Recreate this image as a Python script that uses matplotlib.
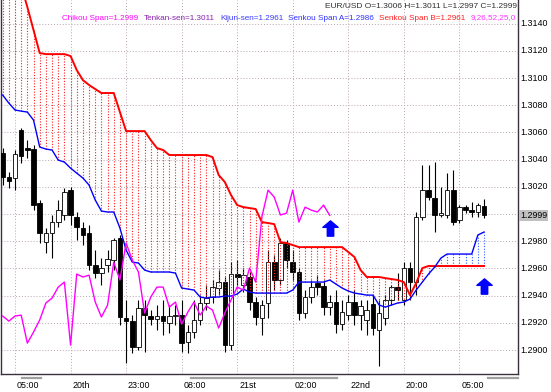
import numpy as np
import matplotlib.pyplot as plt
from matplotlib.path import Path
from matplotlib.transforms import blended_transform_factory

plt.rcParams['font.family'] = ['Liberation Sans', 'DejaVu Sans']

# EUR/USD candles, one per bar (bar 0 = leftmost)
opens = [1.30449, 1.30272, 1.30265, 1.30618, 1.30485, 1.30478, 1.30081, 1.29794, 1.29860, 1.29941,
         1.29993, 1.30176, 1.29978, 1.29897, 1.29860, 1.29625, 1.29566, 1.29625, 1.29662, 1.29824,
         1.29235, 1.29213, 1.29022, 1.29309, 1.29250, 1.29228, 1.29250, 1.29199, 1.29250, 1.29257,
         1.29059, 1.29132, 1.29221, 1.29346, 1.29390, 1.29456, 1.29500, 1.29037, 1.29559, 1.29478,
         1.29537, 1.29353, 1.29235, 1.29346, 1.29647, 1.29515, 1.29787, 1.29647, 1.29574, 1.29272,
         1.29390, 1.29493, 1.29471, 1.29316, 1.29353, 1.29191, 1.29257, 1.29353, 1.29257, 1.29221,
         1.29338, 1.29147, 1.29235, 1.29368, 1.29463, 1.29368, 1.29603, 1.29500, 1.29978, 1.30176,
         1.30118, 1.29993, 1.29993, 1.30176, 1.29956, 1.30051, 1.30029, 1.30015, 1.30060]
highs = [1.30485, 1.30309, 1.30471, 1.30632, 1.30544, 1.30507, 1.30103, 1.29897, 1.29993, 1.30103,
         1.30191, 1.30199, 1.30015, 1.29941, 1.29919, 1.29735, 1.29676, 1.29735, 1.29824, 1.29846,
         1.29368, 1.29257, 1.29368, 1.29368, 1.29294, 1.29331, 1.29368, 1.29331, 1.29331, 1.29368,
         1.29184, 1.29368, 1.29404, 1.29478, 1.29515, 1.29588, 1.29537, 1.29647, 1.29662, 1.29603,
         1.29574, 1.29390, 1.29368, 1.29735, 1.29699, 1.29824, 1.29809, 1.29735, 1.29603, 1.29441,
         1.29515, 1.29551, 1.29515, 1.29404, 1.29441, 1.29368, 1.29404, 1.29441, 1.29368, 1.29368,
         1.29404, 1.29368, 1.29404, 1.29478, 1.29566, 1.29647, 1.29647, 1.30015, 1.30360, 1.30360,
         1.30382, 1.30199, 1.30301, 1.30324, 1.30066, 1.30066, 1.30088, 1.30081, 1.30110]
lows = [1.30213, 1.30191, 1.30176, 1.30375, 1.30412, 1.30029, 1.29787, 1.29713, 1.29676, 1.29904,
        1.29956, 1.29919, 1.29809, 1.29772, 1.29588, 1.29529, 1.29478, 1.29574, 1.29588, 1.29184,
        1.28904, 1.28978, 1.29000, 1.28985, 1.29184, 1.29147, 1.29110, 1.29125, 1.29184, 1.28985,
        1.28978, 1.29088, 1.29184, 1.29294, 1.29346, 1.29404, 1.28985, 1.29000, 1.29478, 1.29426,
        1.29294, 1.29184, 1.29110, 1.29235, 1.29441, 1.29478, 1.29603, 1.29515, 1.29221, 1.29235,
        1.29346, 1.29404, 1.29257, 1.29257, 1.29125, 1.29147, 1.29221, 1.29184, 1.29147, 1.29110,
        1.29110, 1.28882, 1.29184, 1.29331, 1.29368, 1.29331, 1.29368, 1.29404, 1.29956, 1.30103,
        1.29868, 1.29978, 1.29971, 1.29919, 1.29934, 1.30007, 1.29978, 1.29978, 1.29970]
closes = [1.30272, 1.30243, 1.30441, 1.30426, 1.30471, 1.30066, 1.29860, 1.29860, 1.29941, 1.30029,
          1.30162, 1.29993, 1.29904, 1.29846, 1.29625, 1.29566, 1.29603, 1.29669, 1.29809, 1.29243,
          1.29213, 1.29022, 1.29309, 1.29257, 1.29228, 1.29250, 1.29213, 1.29250, 1.29257, 1.29051,
          1.29132, 1.29221, 1.29346, 1.29382, 1.29463, 1.29500, 1.29037, 1.29559, 1.29537, 1.29551,
          1.29353, 1.29243, 1.29331, 1.29647, 1.29515, 1.29787, 1.29662, 1.29574, 1.29272, 1.29390,
          1.29463, 1.29463, 1.29316, 1.29353, 1.29191, 1.29279, 1.29353, 1.29257, 1.29324, 1.29294,
          1.29162, 1.29272, 1.29368, 1.29463, 1.29441, 1.29603, 1.29500, 1.29978, 1.30176, 1.30125,
          1.29993, 1.30007, 1.30176, 1.29941, 1.30051, 1.30029, 1.30015, 1.30066, 1.29990]

# Ichimoku cloud edges
senkou_a = [1.30875, 1.30816, 1.30765, 1.30757, 1.30750, 1.30691, 1.30493, 1.30478, 1.30471, 1.30397,
            1.30382, 1.30338, 1.30301, 1.30265, 1.30213, 1.30103, 1.30022, 1.30015, 1.30015, 1.29897,
            1.29735, 1.29647, 1.29640, 1.29588, 1.29574, 1.29574, 1.29574, 1.29574, 1.29566, 1.29456,
            1.29449, 1.29441, 1.29390, 1.29382, 1.29390, 1.29390, 1.29397, 1.29397, 1.29412, 1.29449,
            1.29426, 1.29419, 1.29419, 1.29419, 1.29419, 1.29419, 1.29419, 1.29441, 1.29500, 1.29500,
            1.29500, 1.29500, 1.29500, 1.29515, 1.29485, 1.29456, 1.29434, 1.29419, 1.29412, 1.29404,
            1.29404, 1.29331, 1.29316, 1.29331, 1.29346, 1.29353, 1.29375, 1.29441, 1.29500, 1.29559,
            1.29610, 1.29676, 1.29706, 1.29706, 1.29706, 1.29706, 1.29706, 1.29846, 1.29868]
senkou_b = [1.31800, 1.31780, 1.31750, 1.31680, 1.31522, 1.31353, 1.31184, 1.31176, 1.31176, 1.31176,
            1.31176, 1.31162, 1.31059, 1.30985, 1.30949, 1.30919, 1.30890, 1.30890, 1.30890, 1.30750,
            1.30610, 1.30610, 1.30610, 1.30610, 1.30544, 1.30485, 1.30471, 1.30434, 1.30434, 1.30434,
            1.30434, 1.30434, 1.30434, 1.30434, 1.30419, 1.30287, 1.30235, 1.30140, 1.30066, 1.30051,
            1.30044, 1.30037, 1.29941, 1.29934, 1.29926, 1.29794, 1.29787, 1.29772, 1.29757, 1.29757,
            1.29757, 1.29757, 1.29757, 1.29757, 1.29757, 1.29757, 1.29721, 1.29684, 1.29588, 1.29537,
            1.29537, 1.29537, 1.29529, 1.29522, 1.29515, 1.29500, 1.29404, 1.29493, 1.29603, 1.29618,
            1.29618, 1.29618, 1.29618, 1.29618, 1.29618, 1.29618, 1.29618, 1.29618, 1.29618]
chikou_shift = 25

time_labels = ["05:00", "20th", "23:00", "08:00", "21st", "02:00", "22nd", "20:00", "05:00"]
time_bars = [2, 11, 20, 29, 38, 47, 56, 65, 74]
price_ticks = [1.2900, 1.2920, 1.2940, 1.2960, 1.2980, 1.3000, 1.3020, 1.3040,
               1.3060, 1.3080, 1.3100, 1.3120, 1.3140]
price_labels = ["1.2900", "1.2920", "1.2940", "1.2960", "1.2980", "", "1.3020", "1.3040",
                "1.3060", "1.3080", "1.3100", "1.3120", "1.3140"]
signal_bars = [53, 78]
signal_prices = [1.29897, 1.29474]

header = "EUR/USD O=1.3006 H=1.3011 L=1.2997 C=1.2999"
legend_parts = ["Chikou Span=1.2999", "Tenkan-sen=1.3011", "Kijun-sen=1.2961",
                "Senkou Span A=1.2986", "Senkou Span B=1.2961", "9,26,52,25,0"]
legend_colors = ['#ff00ff', '#8a1fb0', '#3a3aff', '#3030ff', '#ff2020', '#ff30ff']

x = np.arange(len(opens))
o = np.array(opens); h = np.array(highs); l = np.array(lows); c = np.array(closes)
sa = np.array(senkou_a); sb = np.array(senkou_b)

fig = plt.figure(figsize=(5.51, 3.92), dpi=100)
ax = fig.add_axes([1/551, 18/392, 517/551, 374/392])
ax.set_xlim(-0.27, 83.5)
ax.set_ylim(1.28824, 1.31574)

# grid
ax.set_xticks(time_bars)
ax.set_yticks(price_ticks)
ax.grid(True, color='#b8a4b4', linestyle=(0, (1, 2)), linewidth=0.7)
ax.tick_params(length=0, labelbottom=False, labelleft=False)
for s in ['left', 'bottom', 'right']:
    ax.spines[s].set_color('#3a3040')
    ax.spines[s].set_linewidth(1.0)
ax.spines['top'].set_visible(False)

# candles
up = c >= o
ax.vlines(x, l, h, color='black', linewidth=0.8, zorder=2)
body_h = np.maximum(np.abs(c - o), 0.00002)
body_b = np.minimum(o, c)
ax.bar(x[~up], body_h[~up], bottom=body_b[~up], width=0.75, color='black',
       edgecolor='black', linewidth=0.6, zorder=3)
ax.bar(x[up], body_h[up], bottom=body_b[up], width=0.75, color='white',
       edgecolor='black', linewidth=0.6, zorder=3)

# cloud: dotted hatch between the spans, then the span lines
hatch_col = np.where(sb > sa, '#ff2020', '#3060ff')
ax.vlines(x, np.minimum(sa, sb), np.maximum(sa, sb), colors=hatch_col,
          linestyles=(0, (1, 1.5)), linewidth=0.8, zorder=4)
ax.plot(x, sb, color='#ff0000', linewidth=1.4, zorder=5)
ax.plot(x, sa, color='#0000ff', linewidth=1.0, zorder=5)

# chikou span = close drawn 25 bars back
ax.plot(x[:len(c) - chikou_shift], c[chikou_shift:], color='#ff00ff', linewidth=1.0, zorder=6)

# signal arrows
arrow = Path([(0, 1), (-1, 0.15), (-0.42, 0.15), (-0.42, -1), (0.42, -1), (0.42, 0.15),
              (1, 0.15), (0, 1)],
             [Path.MOVETO] + [Path.LINETO] * 6 + [Path.CLOSEPOLY])
ax.plot(signal_bars, signal_prices, linestyle='none', marker=arrow, markersize=11,
        color='#0000ff', zorder=7)

# right price scale
ty = blended_transform_factory(ax.transAxes, ax.transData)
for p, lab in zip(price_ticks, price_labels):
    ax.text(1.004, p, lab, transform=ty, ha='left', va='center', fontsize=6.4,
            color='black', clip_on=False)
ax.text(1.004, c[-1], f"{c[-1]:.4f}", transform=ty, ha='left', va='center', fontsize=6.4,
        color='black', clip_on=False,
        bbox=dict(boxstyle='square,pad=0.1', facecolor='#c0c0c0', edgecolor='none'))

# time scale
tx = blended_transform_factory(ax.transData, ax.transAxes)
for b, lab in zip(time_bars, time_labels):
    ax.text(b + 0.3, -0.03, lab, transform=tx, ha='left', va='center', fontsize=6.4,
            color='black', clip_on=False)
for x0, x1 in [(3.1, 6.2), (30.5, 54.2), (78.7, 83.5)]:
    ax.plot([x0, x1], [-0.011, -0.011], transform=tx, color='#a0a0a0', linewidth=1.6,
            clip_on=False)

# header lines
fig.text(517/551, 1 - 7/392, header, ha='right', va='center', fontsize=6.0, color='#303030')

# coloured indicator line, fitted between x=62 and x=517 px
fig.canvas.draw()
r = fig.canvas.get_renderer()
base_fs = 6.0
widths = []
for txt in legend_parts:
    t = fig.text(0, 0, txt, fontsize=base_fs)
    widths.append(t.get_window_extent(r).width)
    t.remove()
gap = 4.0
scale = (517 - 62 - gap * (len(legend_parts) - 1)) / sum(widths)
fs = base_fs * scale
xpos = 62.0
for txt, col, w in zip(legend_parts, legend_colors, widths):
    fig.text(xpos / 551, 1 - 18/392, txt, ha='left', va='center', fontsize=fs, color=col)
    xpos += w * scale + gap

fig.savefig('out.png', dpi=100)
